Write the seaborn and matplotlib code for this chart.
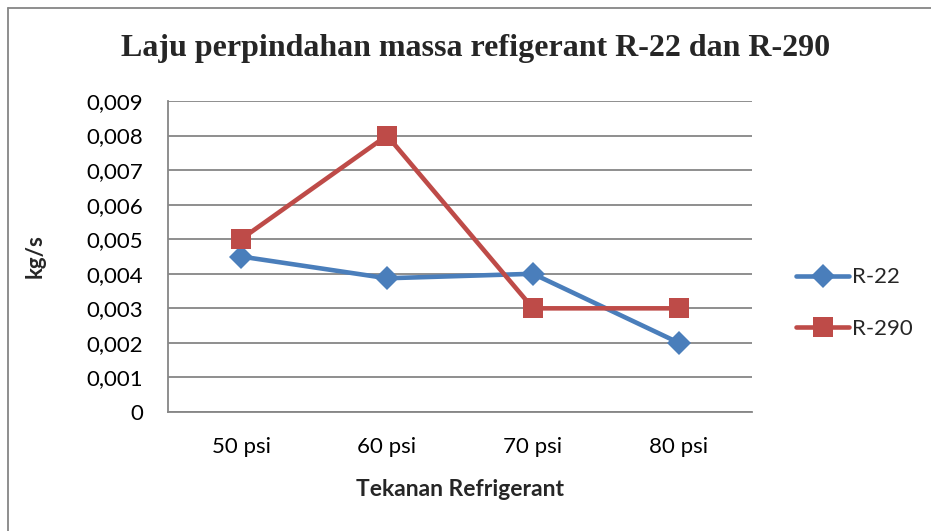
import matplotlib
matplotlib.use("Agg")
import matplotlib.pyplot as plt
import seaborn as sns
import pandas as pd
from matplotlib.ticker import FuncFormatter, MultipleLocator
from matplotlib.lines import Line2D

categories = ["50 psi", "60 psi", "70 psi", "80 psi"]
r22 = [0.0045, 0.00387, 0.0040, 0.0020]
r290 = [0.0050, 0.0080, 0.0030, 0.0030]
series_names = ["R-22", "R-290"]
colors = ["#4A7EBB", "#BE4B48"]

rows = []
for name, vals in zip(series_names, [r22, r290]):
    for i, (c, v) in enumerate(zip(categories, vals)):
        rows.append({"pos": i, "cat": c, "val": v, "series": name})
df = pd.DataFrame(rows)

sns.set_theme(style="white")
plt.rcParams['font.family'] = ['Lato', 'DejaVu Sans']

fig = plt.figure(figsize=(9.31, 5.31), dpi=100)
ax = fig.add_axes([168/931, 1-412/531, (752-168)/931, (412-101)/531])

LW = 3.3
D_MS = 12
S_MS = 14
sns.lineplot(data=df, x="pos", y="val", hue="series", style="series",
             markers={"R-22": "D", "R-290": "s"}, dashes=False,
             palette=dict(zip(series_names, colors)), linewidth=LW,
             markersize=S_MS, markeredgewidth=0, ax=ax, legend=False)
for ln in ax.get_lines():
    if ln.get_marker() == "D":
        ln.set_markersize(D_MS)

ax.set_xlim(-0.5, 3.5)
ax.set_ylim(0, 0.009)
ax.yaxis.set_major_locator(MultipleLocator(0.001))
ax.yaxis.set_major_formatter(FuncFormatter(lambda v, p: "0" if abs(v) < 1e-12 else f"{v:.3f}".replace(".", ",")))
ax.set_xticks(range(len(categories)))
ax.set_xticklabels(categories)
ax.tick_params(axis="both", labelsize=16, length=0, colors="black")
ax.tick_params(axis="x", pad=18)
ax.tick_params(axis="y", pad=18)
ax.grid(axis="y", color="#868686", linewidth=1.3)
ax.set_axisbelow(True)
for s in ["top", "right"]:
    ax.spines[s].set_visible(False)
for s in ["left", "bottom"]:
    ax.spines[s].set_color("#868686")
    ax.spines[s].set_linewidth(1.3)

ax.set_xlabel("Tekanan Refrigerant", fontsize=16.5, fontweight="bold", labelpad=16)
ax.set_ylabel("kg/s", fontsize=16, fontweight="bold", labelpad=29)

fig.text(0.5 * (122 + 830) / 931, 1 - 48/531, "Laju perpindahan massa refigerant R-22 dan R-290",
         ha="center", va="center", fontsize=23, fontweight="bold",
         family=["Liberation Serif", "DejaVu Serif"])

handles = [Line2D([0], [0], color=c, marker=m, linewidth=LW, markersize=ms, markeredgewidth=0)
           for c, m, ms in zip(colors, ["D", "s"], [D_MS, S_MS])]
fig.legend(handles, series_names, loc="center left", bbox_to_anchor=(776/931, 1 - 303/531),
           frameon=False, fontsize=16, handlelength=2.4, handletextpad=0.1, labelspacing=1.4)

# outer border (top and left visible)
fig.add_artist(Line2D([8/931, 1], [1 - 8/531, 1 - 8/531], color="#868686", linewidth=1.3, transform=fig.transFigure))
fig.add_artist(Line2D([8/931, 8/931], [0, 1 - 8/531], color="#868686", linewidth=1.3, transform=fig.transFigure))

fig.savefig("out.png", dpi=100, facecolor="white")
